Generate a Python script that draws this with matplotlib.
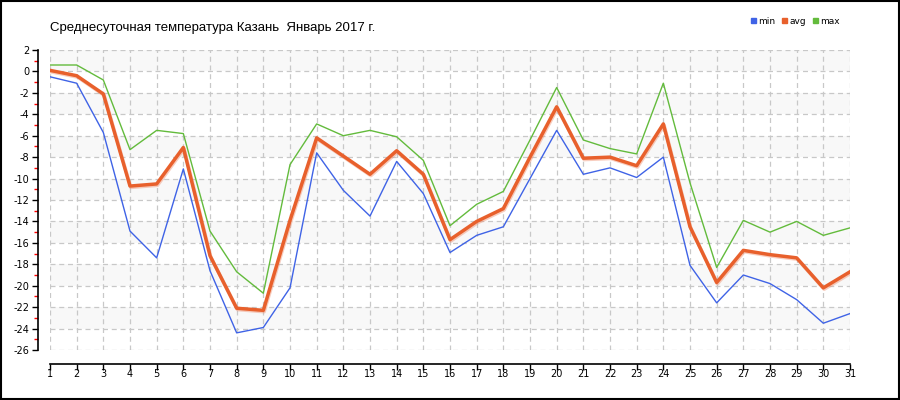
import matplotlib
matplotlib.use("Agg")
import matplotlib.pyplot as plt
import matplotlib.patheffects as pe
from matplotlib.patches import Rectangle
from matplotlib.ticker import MultipleLocator

# Дни месяца и температуры (min / avg / max)
dias = list(range(1, 32))
t_min = [-0.5, -1.1, -5.7, -14.9, -17.4, -9.1, -18.6, -24.4, -23.9, -20.2,
         -7.6, -11.1, -13.5, -8.4, -11.4, -16.9, -15.3, -14.5, -10.0, -5.5,
         -9.6, -9.0, -9.9, -8.0, -18.1, -21.6, -19.0, -19.8, -21.3, -23.5, -22.6]
t_avg = [0.1, -0.4, -2.1, -10.7, -10.5, -7.1, -17.2, -22.1, -22.3, -13.9,
         -6.2, -7.9, -9.6, -7.4, -9.6, -15.7, -14.0, -12.8, -8.0, -3.3,
         -8.1, -8.0, -8.8, -4.9, -14.5, -19.7, -16.7, -17.1, -17.4, -20.2, -18.7]
t_max = [0.6, 0.6, -0.8, -7.3, -5.5, -5.8, -14.9, -18.7, -20.7, -8.7,
         -4.9, -6.0, -5.5, -6.1, -8.3, -14.4, -12.4, -11.2, -6.4, -1.5,
         -6.4, -7.2, -7.7, -1.1, -10.4, -18.3, -13.9, -15.0, -14.0, -15.3, -14.6]

titulo = "Среднесуточная температура Казань  Январь 2017 г."
series = [("min", t_min, "#3f63e6"), ("avg", t_avg, "#e8602c"), ("max", t_max, "#63bb3c")]

fig = plt.figure(figsize=(9, 4), dpi=100)
ax = fig.add_axes([50 / 900, 1 - 350 / 400, 800 / 900, 300 / 400])

# franjas grises alternadas
for y0 in range(-24, 2, 4):
    ax.axhspan(y0, y0 + 2, color="#f8f8f8", zorder=0, lw=0)

ax.set_xlim(1, 31)
ax.set_ylim(-26, 2)
ax.xaxis.set_major_locator(MultipleLocator(1))
ax.yaxis.set_major_locator(MultipleLocator(2))
ax.yaxis.set_minor_locator(MultipleLocator(1))
ax.grid(True, which="major", color="#c8c8c8", linestyle=(0, (4, 3)), linewidth=0.9, zorder=1)

ax.plot(dias, t_max, color=series[2][2], lw=1.0, zorder=3)
ax.plot(dias, t_min, color=series[0][2], lw=1.0, zorder=3)
ax.plot(dias, t_avg, color=series[1][2], lw=2.5, zorder=4,
        path_effects=[pe.SimpleLineShadow(offset=(0.6, -1.0), shadow_color="#f09070", alpha=0.45),
                      pe.Normal()])

for s in ["top", "right"]:
    ax.spines[s].set_visible(False)
ax.spines["left"].set_position(("outward", 9))
ax.spines["left"].set_bounds(-26, 2)
ax.spines["bottom"].set_position(("outward", 10))
ax.spines["left"].set_linewidth(1.2)
ax.spines["bottom"].set_linewidth(1.2)

ax.tick_params(axis="y", which="major", length=4, width=1, labelsize=7, pad=2, colors="black")
ax.tick_params(axis="y", which="minor", length=3, width=1, color="red")
ax.tick_params(axis="x", which="major", length=4, width=1, labelsize=7, pad=0)
ax.set_yticks(range(-26, 3, 2))
ax.set_yticklabels([str(v) for v in range(-26, 3, 2)])

fig.text(50 / 900, 1 - 28 / 400, titulo, fontsize=9.5, va="center", ha="left",
         family="Liberation Sans")

# leyenda
lx = [751, 782, 813]
for (nombre, _, color), x in zip(series, lx):
    fig.patches.append(Rectangle((x / 900, 1 - 23 / 400), 5 / 900, 5 / 400,
                                 transform=fig.transFigure, color=color))
    fig.text((x + 7) / 900, 1 - 21 / 400, nombre, fontsize=6.5, va="center", ha="left")

fig.patches.append(Rectangle((0.001, 0.002), 0.998, 0.996, transform=fig.transFigure,
                             fill=False, edgecolor="black", linewidth=1.5))

fig.savefig("out.png", dpi=100)
